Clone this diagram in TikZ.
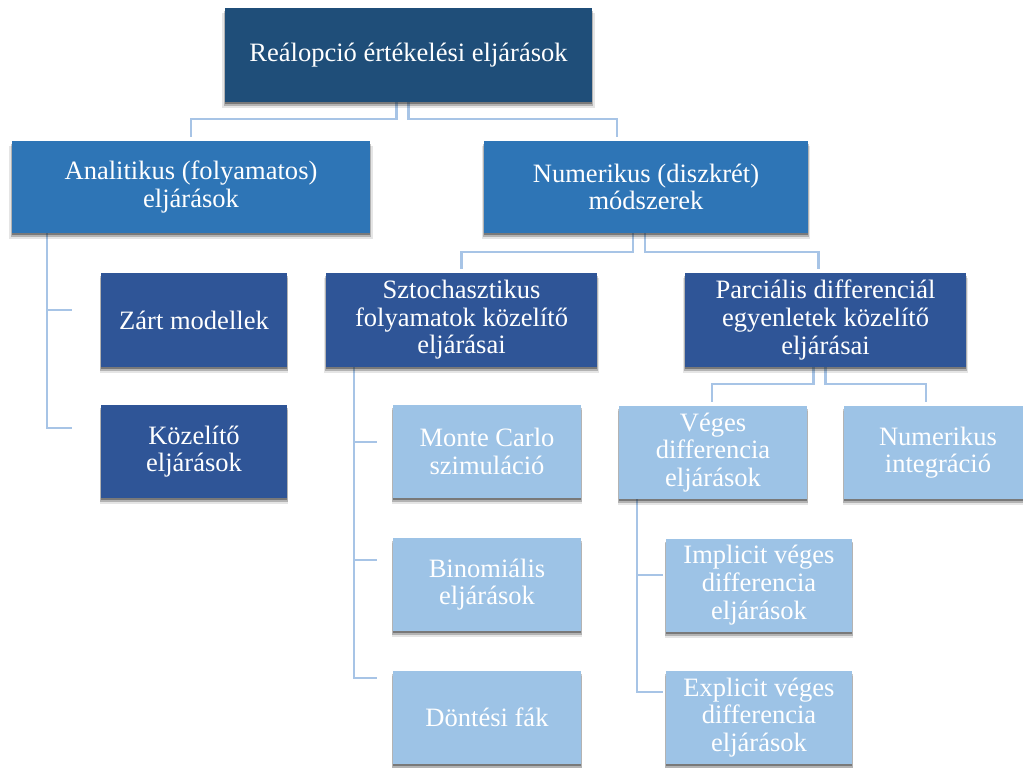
\documentclass[tikz,border=0pt]{standalone}
\usepackage{fontspec}
\setmainfont{Liberation Serif}
\usetikzlibrary{calc,shadows}
\pgfdeclarelayer{bg}
\pgfsetlayers{bg,main}
\definecolor{navy}{HTML}{1F4E79}
\definecolor{midblue}{HTML}{2E75B6}
\definecolor{darkblue}{HTML}{2F5597}
\definecolor{lightblue}{HTML}{9DC3E6}
\definecolor{linkblue}{HTML}{A7C4E6}
\begin{document}
\begin{tikzpicture}[x=0.75pt,y=-0.75pt,
  box/.style={rectangle, inner sep=0pt, align=center, text=white,
    font=\fontsize{19.9}{20.7}\selectfont,
    drop shadow={shadow xshift=0pt, shadow yshift=-4pt, opacity=0.10, fill=black, shadow scale=1.015},
    drop shadow={shadow xshift=0pt, shadow yshift=-2.8pt, opacity=0.22, fill=black, shadow scale=1.008},
    drop shadow={shadow xshift=0.3pt, shadow yshift=-1.5pt, opacity=0.45, fill=black!80}},
  topbox/.style={box, fill=navy, minimum width=275.25pt, minimum height=70.5pt},
  lvtwo/.style={box, fill=midblue, minimum height=69pt},
  lvthree/.style={box, fill=darkblue, minimum height=70.5pt},
  leafbox/.style={box, fill=lightblue, minimum width=141pt, minimum height=69.75pt},
  link/.style={draw=linkblue, line width=1.6pt}]
\useasboundingbox (0,0) rectangle (1023,767);

% level 0 and level 1
\node[topbox] (top) at (408.5,55) {Reálopció értékelési eljárások};
\node[lvtwo, minimum width=268.5pt] (ana) at (191,187) {Analitikus (folyamatos)\\eljárások};
\node[lvtwo, minimum width=243pt] (num) at (646,187) {Numerikus (diszkrét)\\módszerek};

% level 2
\node[lvthree, minimum width=139.5pt] (zart) at (194,320) {Zárt modellek};
\node[lvthree, minimum width=139.5pt, minimum height=69.75pt] (koz) at (194,451.5) {Közelítő\\eljárások};
\node[lvthree, minimum width=203.25pt] (szto) at (461.5,320) {Sztochasztikus\\folyamatok közelítő\\eljárásai};
\node[lvthree, minimum width=210.75pt] (parc) at (825.5,320) {Parciális differenciál\\egyenletek közelítő\\eljárásai};

% leaves
\node[leafbox] (monte) at (487,451.5) {Monte Carlo\\szimuláció};
\node[leafbox] (binom) at (487,584.5) {Binomiális\\eljárások};
\node[leafbox] (dontes) at (487,717.5) {Döntési fák};
\node[leafbox] (veges) at (713,452.5) {Véges\\differencia\\eljárások};
\node[leafbox] (numint) at (938,452.5) {Numerikus\\integráció};
\node[leafbox, minimum width=139.5pt] (impl) at (759,585) {Implicit véges\\differencia\\eljárások};
\node[leafbox, minimum width=139.5pt] (expl) at (759,717.5) {Explicit véges\\differencia\\eljárások};

\begin{pgfonlayer}{bg}
  % root to first level
  \draw[link] ($(top.south)+(-12,0)$) -- ++(0,17) -| ($(ana.north)+(0,-4)$);
  \draw[link] (top.south) -- ++(0,17) -| ($(num.north)+(-29,-4)$);
  % analytic branch
  \draw[link] ($(ana.south west)+(35,0)$) |- ($(zart.west)+(-29,-10)$);
  \draw[link] ($(ana.south west)+(35,0)$) |- ($(koz.west)+(-29,-23.5)$);
  % numeric branch
  \draw[link] ($(num.south)+(-13,0)$) -- ++(0,19) -| ($(szto.north)+(0,-4)$);
  \draw[link] ($(num.south)+(-1,0)$) -- ++(0,19) -| ($(parc.north)+(-7,-4)$);
  % stochastic branch
  \draw[link] ($(szto.south west)+(28,0)$) |- ($(monte.west)+(-16,-9.5)$);
  \draw[link] ($(szto.south west)+(28,0)$) |- ($(binom.west)+(-16,-24.5)$);
  \draw[link] ($(szto.south west)+(28,0)$) |- ($(dontes.west)+(-16,-39.5)$);
  % PDE branch
  \draw[link] ($(parc.south)+(-12,0)$) -- ++(0,17) -| ($(veges.north)+(-1,-4)$);
  \draw[link] (parc.south) -- ++(0,17) -| ($(numint.north)+(-12,-4)$);
  % finite difference branch
  \draw[link] ($(veges.south west)+(18,0)$) |- ($(impl.west)+(-3,-10)$);
  \draw[link] ($(veges.south west)+(18,0)$) |- ($(expl.west)+(-3,-25.5)$);
\end{pgfonlayer}
\end{tikzpicture}
\end{document}
